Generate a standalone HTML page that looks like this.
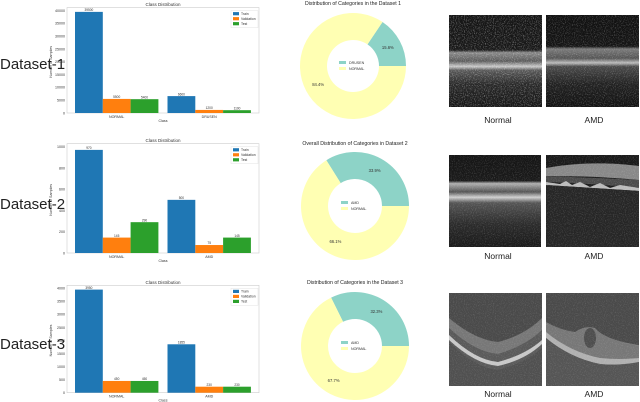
<!DOCTYPE html>
<html><head><meta charset="utf-8">
<style>
html,body{margin:0;padding:0;background:#fff;}
svg{display:block;font-family:"Liberation Sans",sans-serif;}
</style></head>
<body>
<svg id="fig" width="640" height="402" viewBox="0 0 640 402" xmlns="http://www.w3.org/2000/svg">
<defs>
<filter id="noise" x="0" y="0" width="100%" height="100%">
<feTurbulence type="fractalNoise" baseFrequency="0.9" numOctaves="2" seed="3"/>
<feColorMatrix type="matrix" values="0 0 0 0 1  0 0 0 0 1  0 0 0 0 1  2.5 0 0 0 -1.2"/>
</filter>
<linearGradient id="g1n" x1="0" y1="0" x2="0" y2="1">
<stop offset="0" stop-color="#151515"/><stop offset="0.38" stop-color="#181818"/>
<stop offset="0.41" stop-color="#8a8a8a"/><stop offset="0.5" stop-color="#5a5a5a"/>
<stop offset="0.56" stop-color="#c8c8c8"/><stop offset="0.6" stop-color="#5a5a5a"/>
<stop offset="0.75" stop-color="#2a2a2a"/><stop offset="1" stop-color="#161616"/></linearGradient>
<linearGradient id="g1a" x1="0" y1="0" x2="0" y2="1">
<stop offset="0" stop-color="#111"/><stop offset="0.34" stop-color="#151515"/>
<stop offset="0.37" stop-color="#7a7a7a"/><stop offset="0.47" stop-color="#555"/>
<stop offset="0.52" stop-color="#bbb"/><stop offset="0.56" stop-color="#4a4a4a"/>
<stop offset="0.75" stop-color="#222"/><stop offset="1" stop-color="#121212"/></linearGradient>
<linearGradient id="g2" x1="0" y1="0" x2="0" y2="1">
<stop offset="0" stop-color="#151515"/><stop offset="0.28" stop-color="#1a1a1a"/>
<stop offset="0.31" stop-color="#b0b0b0"/><stop offset="0.4" stop-color="#555"/>
<stop offset="0.46" stop-color="#d0d0d0"/><stop offset="0.52" stop-color="#555"/>
<stop offset="0.75" stop-color="#2c2c2c"/><stop offset="1" stop-color="#1a1a1a"/></linearGradient>
</defs>
<g id="bars"></g>
<g id="pies"></g>
<g id="octs">
<rect x="449" y="15" width="93" height="92" fill="url(#g1n)"/>
<rect x="449" y="15" width="93" height="92" filter="url(#noise)" opacity="0.45"/>
<rect x="546" y="15" width="93" height="92" fill="url(#g1a)"/>
<rect x="546" y="15" width="93" height="92" filter="url(#noise)" opacity="0.3"/>
<rect x="449" y="155" width="92" height="92" fill="url(#g2)"/>
<rect x="449" y="155" width="92" height="92" filter="url(#noise)" opacity="0.2"/>
<rect x="546" y="155" width="93" height="92" fill="#1a1a1a"/>
<path d="M546 168 Q590 160 639 166 L639 180 Q600 176 546 176 Z" fill="#888"/>
<path d="M546 176 Q600 178 639 180 L639 188 Q600 184 546 182 Z" fill="#4a4a4a"/>
<path d="M546 182 L560 184 L566 181 L572 185 L580 182 L590 187 L600 183 L610 188 L620 185 L639 188 L639 191 L546 185 Z" fill="#bbb"/>
<path d="M546 185 L639 191 L639 247 L546 247 Z" fill="#262626"/>
<rect x="546" y="155" width="93" height="92" filter="url(#noise)" opacity="0.2"/>
<rect x="449" y="293" width="93" height="93" fill="#4a4a4a"/>
<path d="M449 318 Q475 340 498 342 Q525 335 542 318 L542 386 L449 386 Z" fill="#777"/>
<path d="M449 328 Q475 352 498 354 Q525 346 542 330 L542 386 L449 386 Z" fill="#5a5a5a"/>
<path d="M449 335 Q475 360 498 362 Q525 355 542 340 L542 344 Q525 360 498 366 Q475 364 449 340 Z" fill="#c8c8c8"/>
<path d="M449 342 Q475 368 498 370 Q525 363 542 348 L542 386 L449 386 Z" fill="#505050"/>
<rect x="546" y="293" width="93" height="93" fill="#4a4a4a"/>
<path d="M546 322 Q560 330 575 332 Q585 325 595 328 Q605 340 639 345 L639 386 L546 386 Z" fill="#777"/>
<ellipse cx="590" cy="338" rx="6" ry="10" fill="#4e4e4e"/>
<path d="M546 332 Q570 352 600 358 Q620 360 639 358 L639 362 Q615 366 600 364 Q570 358 546 338 Z" fill="#b0b0b0"/>
<path d="M546 338 Q570 358 600 364 Q620 366 639 362 L639 386 L546 386 Z" fill="#555"/>
<rect x="449" y="293" width="190" height="93" filter="url(#noise)" opacity="0.15"/>
</g>
<g font-size="8.5" fill="#222" text-anchor="middle" font-family="Liberation Sans,sans-serif">
<text x="498" y="123">Normal</text>
<text x="594" y="123">AMD</text>
<text x="498" y="259">Normal</text>
<text x="594" y="259">AMD</text>
<text x="498" y="397">Normal</text>
<text x="594" y="397">AMD</text>
</g>
<g font-size="15" fill="#222">
<text x="0" y="69">Dataset-1</text>
<text x="0" y="209">Dataset-2</text>
<text x="0" y="349">Dataset-3</text>
</g>
</svg>
<script>
const cats1 = ["NORMAL", "DRUSEN"];
const cats2 = ["NORMAL", "AMD"];
const cats3 = ["NORMAL", "AMD"];
const train1 = [39500, 6600];
const val1 = [5500, 1200];
const test1 = [5400, 1100];
const train2 = [970, 500];
const val2 = [145, 75];
const test2 = [290, 145];
const train3 = [3950, 1855];
const val3 = [450, 230];
const test3 = [450, 230];
const ticks1 = [0, 5000, 10000, 15000, 20000, 25000, 30000, 35000, 40000];
const ticks2 = [0, 200, 400, 600, 800, 1000];
const ticks3 = [0, 500, 1000, 1500, 2000, 2500, 3000, 3500, 4000];
const seriesNames = ["Train", "Validation", "Test"];
const pieLabels1 = ["DRUSEN", "NORMAL"];
const pieValues1 = [15.6, 84.4];
const pieLabels2 = ["AMD", "NORMAL"];
const pieValues2 = [33.9, 66.1];
const pieLabels3 = ["AMD", "NORMAL"];
const pieValues3 = [32.3, 67.7];

const NS = "http://www.w3.org/2000/svg";
const COLORS = ["#1f77b4", "#ff7f0e", "#2ca02c"];
const PIECOL = ["#8dd3c7", "#ffffb3"];
function mk(tag, attrs, parent) {
  const e = document.createElementNS(NS, tag);
  for (const k in attrs) e.setAttribute(k, attrs[k]);
  parent.appendChild(e);
  return e;
}
function barChart(idx, top, bottom, cats, series, ticks) {
  const g = mk("g", {}, document.getElementById("bars"));
  
  
  const x0 = 67, x1 = 259, ymax = ticks[ticks.length - 1];
  const y = v => bottom - v / ymax * (bottom - top);
  mk("rect", {x: x0, y: top - 3, width: x1 - x0, height: bottom - top + 3, fill: "none", stroke: "#ccc", "stroke-width": 0.6}, g);
  const title = mk("text", {x: (x0 + x1) / 2, y: top - 4.5, "font-size": 4.5, "text-anchor": "middle", fill: "#333"}, g);
  title.textContent = "Class Distribution";
  
  
  ticks.forEach(t => {
    const tl = mk("text", {x: x0 - 2, y: y(t) + 1.3, "font-size": 3.6, "text-anchor": "end", fill: "#333"}, g);
    tl.textContent = t;
    
    
  });
  const yt = mk("text", {x: 0, y: 0, "font-size": 3.6, "text-anchor": "middle", fill: "#333", transform: `translate(${x0 - 15},${(top + bottom) / 2}) rotate(-90)`}, g);
  yt.textContent = "Number of Samples";
  
  
  const xt = mk("text", {x: (x0 + x1) / 2, y: bottom + 9, "font-size": 3.6, "text-anchor": "middle", fill: "#333"}, g);
  xt.textContent = "Class";
  
  
  const bw = 27.8, start = [75, 167.5];
  cats.forEach((c, ci) => {
    series.forEach((s, si) => {
      const bx = start[ci] + si * bw;
      const r = mk("rect", {x: bx, y: y(s[ci]), width: bw, height: bottom - y(s[ci]), fill: COLORS[si]}, g);
      
      
      const vl = mk("text", {x: bx + bw / 2, y: y(s[ci]) - 0.8, "font-size": 3.2, "text-anchor": "middle", fill: "#333"}, g);
      vl.textContent = s[ci];
      
      
    });
    const cl = mk("text", {x: start[ci] + bw * 1.5, y: bottom + 5, "font-size": 3.6, "text-anchor": "middle", fill: "#333"}, g);
    cl.textContent = c;
    
    
  });
  const lg = mk("g", {}, g);
  
  
  mk("rect", {x: 231, y: top, width: 27, height: 17, fill: "#fff", stroke: "#ddd", "stroke-width": 0.4}, lg);
  seriesNames.forEach((n, i) => {
    const sw = mk("rect", {x: 233, y: top + 1.5 + i * 5, width: 6, height: 3.2, fill: COLORS[i]}, lg);
    
    
    const t = mk("text", {x: 241, y: top + 4.3 + i * 5, "font-size": 3.4, fill: "#333"}, lg);
    t.textContent = n;
    
    
  });
}
barChart(1, 10.6, 113, cats1, [train1, val1, test1], ticks1);
barChart(2, 146.7, 253, cats2, [train2, val2, test2], ticks2);
barChart(3, 288.3, 392.7, cats3, [train3, val3, test3], ticks3);

function pie(idx, cx, cy, R, r, labels, values, title, ty) {
  const g = mk("g", {}, document.getElementById("pies"));
  
  
  const tt = mk("text", {x: cx, y: ty, "font-size": 5.2, "text-anchor": "middle", fill: "#222"}, g);
  tt.textContent = title;
  
  
  const total = values.reduce((a, b) => a + b, 0);
  let a0 = 0;
  values.forEach((v, i) => {
    const a1 = a0 + v / total * 2 * Math.PI;
    const p = (ang, rad) => [cx + rad * Math.cos(ang), cy - rad * Math.sin(ang)];
    const [ox0, oy0] = p(a0, R), [ox1, oy1] = p(a1, R), [ix1, iy1] = p(a1, r), [ix0, iy0] = p(a0, r);
    const large = (a1 - a0) > Math.PI ? 1 : 0;
    const d = `M${ox0} ${oy0} A${R} ${R} 0 ${large} 0 ${ox1} ${oy1} L${ix1} ${iy1} A${r} ${r} 0 ${large} 1 ${ix0} ${iy0} Z`;
    const s = mk("path", {d: d, fill: PIECOL[i]}, g);
    
    
    const am = (a0 + a1) / 2, [lx, ly] = p(am, (R + r) / 2);
    const lt = mk("text", {x: lx, y: ly + 1.5, "font-size": 4.2, "text-anchor": "middle", fill: "#333"}, g);
    lt.textContent = v.toFixed(1) + "%";
    
    
    const sw = mk("rect", {x: cx - 14, y: cy - 5 + i * 6, width: 7, height: 3, fill: PIECOL[i]}, g);
    
    
    const le = mk("text", {x: cx - 4, y: cy - 2 + i * 6, "font-size": 3.6, fill: "#333"}, g);
    le.textContent = labels[i];
    
    
    a0 = a1;
  });
}
pie(1, 353, 66, 53, 26, pieLabels1, pieValues1, "Distribution of Categories in the Dataset 1", 5);
pie(2, 355, 206, 54, 27, pieLabels2, pieValues2, "Overall Distribution of Categories in Dataset 2", 145);
pie(3, 355, 346, 54, 27, pieLabels3, pieValues3, "Distribution of Categories in the Dataset 3", 284);
</script>
</body></html>
